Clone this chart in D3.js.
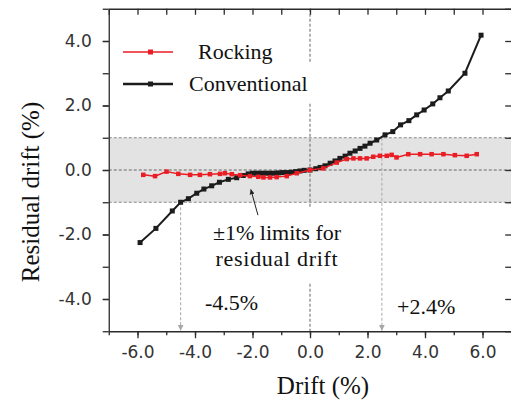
<!DOCTYPE html>
<html>
<head>
<meta charset="utf-8">
<script src="https://cdn.jsdelivr.net/npm/d3@7"></script>
<style>
  body { margin: 0; background: #fff; }
  svg { display: block; }
</style>
</head>
<body>
<svg id="chart" width="511" height="403"></svg>
<script>
// values (drift %, residual drift %)
const conventionalDrift = [-5.91, -5.36, -4.79, -4.50, -4.23, -3.94, -3.69, -3.42, -3.15, -2.84, -2.55, -2.32,
    -2.15, -2.00, -1.85, -1.70, -1.55, -1.40, -1.25, -1.10, -0.95, -0.80, -0.65, -0.50, -0.35, -0.20, 0,
    0.20, 0.35, 0.52, 0.70, 0.87, 1.04, 1.22, 1.39, 1.57, 1.74, 1.91, 2.09, 2.32, 2.61, 2.88, 3.15, 3.44,
    3.71, 3.97, 4.27, 4.52, 4.81, 5.39, 5.95];
const conventionalResidual = [-2.25, -1.81, -1.27, -1.00, -0.89, -0.72, -0.59, -0.49, -0.38, -0.29, -0.24, -0.17,
    -0.12, -0.10, -0.10, -0.10, -0.10, -0.10, -0.10, -0.09, -0.08, -0.08, -0.07, -0.05, -0.03, -0.01, 0,
    0.04, 0.08, 0.13, 0.21, 0.28, 0.36, 0.43, 0.52, 0.59, 0.67, 0.74, 0.83, 0.93, 1.09, 1.19, 1.40, 1.53,
    1.71, 1.86, 2.05, 2.24, 2.45, 3.00, 4.18];

const rockingDrift = [-5.80, -5.39, -4.99, -4.58, -4.17, -3.83, -3.48, -3.13, -2.96, -2.72, -2.43, -2.09,
    -1.80, -1.62, -1.39, -1.16, -0.81, -0.46, 0, 0.46, 0.93, 1.28, 1.51, 1.74, 1.97, 2.20, 2.43, 2.67,
    2.84, 3.01, 3.42, 3.83, 4.23, 4.64, 5.04, 5.45, 5.80];
const rockingResidual = [-0.15, -0.19, -0.05, -0.12, -0.15, -0.15, -0.13, -0.12, -0.10, -0.13, -0.16, -0.19,
    -0.21, -0.23, -0.23, -0.22, -0.19, -0.10, 0, 0.05, 0.23, 0.34, 0.36, 0.36, 0.36, 0.41, 0.44, 0.44,
    0.47, 0.39, 0.49, 0.49, 0.49, 0.49, 0.46, 0.44, 0.49];

const seriesNames = ['Rocking', 'Conventional'];
const xTicks = [-6, -4, -2, 0, 2, 4, 6];
const yTicks = [-4, -2, 0, 2, 4];
const residualLimits = [-1, 1];
const limitDrifts = [-4.5, 2.5];
const limitLabels = ['-4.5%', '+2.4%'];
const noteLines = ['\u00b11% limits for', 'residual drift'];

const svg = d3.select('#chart');
const x = d3.scaleLinear().domain([-7, 7]).range([108.75, 511.25]);
const y = d3.scaleLinear().domain([-5, 5]).range([331.25, 8.75]);
const minorX = d3.range(-7, 8, 1);
const minorY = d3.range(-5, 6, 1);

const serif = '"Liberation Serif", "Times New Roman", serif';
const sans = '"DejaVu Sans", Verdana, sans-serif';
const axisColor = '#2b2b2b';
const guideColor = '#8a8a8a';

// ±1 % band
svg.append('rect')
    .attr('x', x(-7))
    .attr('y', y(residualLimits[1]))
    .attr('width', x(7) - x(-7))
    .attr('height', y(residualLimits[0]) - y(residualLimits[1]))
    .attr('fill', '#e3e3e3');

svg.selectAll('.limit-line')
    .data(residualLimits.concat([0]))
    .join('line')
    .attr('class', 'limit-line')
    .attr('x1', x(-7)).attr('x2', x(7))
    .attr('y1', d => y(d)).attr('y2', d => y(d))
    .attr('stroke', d => d === 0 ? '#666' : guideColor)
    .attr('stroke-width', 1)
    .attr('stroke-dasharray', '3,2');

svg.append('line')
    .attr('x1', x(0)).attr('x2', x(0))
    .attr('y1', y(5)).attr('y2', y(-5))
    .attr('stroke', '#666')
    .attr('stroke-dasharray', '3,2');

// arrows down to the axis where conventional leaves the band
const defs = svg.append('defs');
defs.append('marker')
    .attr('id', 'gray-head')
    .attr('viewBox', '0 0 10 10')
    .attr('refX', 10).attr('refY', 5)
    .attr('markerWidth', 6).attr('markerHeight', 9)
    .attr('markerUnits', 'userSpaceOnUse')
    .attr('orient', 'auto')
    .append('path')
    .attr('d', 'M0,0L10,5L0,10Z')
    .attr('fill', '#a8a8a8');
defs.append('marker')
    .attr('id', 'black-head')
    .attr('viewBox', '0 0 10 10')
    .attr('refX', 10).attr('refY', 5)
    .attr('markerWidth', 5).attr('markerHeight', 9)
    .attr('markerUnits', 'userSpaceOnUse')
    .attr('orient', 'auto')
    .append('path')
    .attr('d', 'M0,0L10,5L0,10Z')
    .attr('fill', '#222');

svg.selectAll('.limit-arrow')
    .data(limitDrifts)
    .join('line')
    .attr('class', 'limit-arrow')
    .attr('x1', d => x(d)).attr('x2', d => x(d))
    .attr('y1', d => y(d < 0 ? -1 : 1))
    .attr('y2', y(-5) - 0.5)
    .attr('stroke', '#a8a8a8')
    .attr('stroke-width', 1)
    .attr('stroke-dasharray', '3,2')
    .attr('marker-end', 'url(#gray-head)');

// white boxes behind legend and note (they hide the zero guide)
svg.append('rect')
    .attr('x', 111).attr('y', 62).attr('width', 202).attr('height', 41)
    .attr('fill', '#fff');
svg.append('rect')
    .attr('x', 200).attr('y', 208).attr('width', 150).attr('height', 75)
    .attr('fill', '#fff');

// axes
function styleAxis(g) {
    g.selectAll('path, line').attr('stroke', axisColor).attr('stroke-width', 1.3);
    g.selectAll('text').attr('font-family', sans).attr('font-size', 17).attr('fill', '#333');
}

svg.append('g')
    .attr('transform', `translate(0,${y(-5)})`)
    .call(d3.axisBottom(x).tickValues(minorX).tickSize(4).tickSizeOuter(0).tickFormat(''))
    .call(styleAxis);
svg.append('g')
    .attr('transform', `translate(0,${y(-5)})`)
    .call(d3.axisBottom(x).tickValues(xTicks).tickSize(7).tickPadding(8).tickSizeOuter(0)
        .tickFormat(d => d.toFixed(1)))
    .call(g => g.select('.domain').remove())
    .call(styleAxis);
svg.append('g')
    .attr('transform', `translate(0,${y(5)})`)
    .call(d3.axisBottom(x).tickValues(minorX).tickSize(6).tickSizeOuter(0).tickFormat(''))
    .call(styleAxis);

svg.append('g')
    .attr('transform', `translate(${x(-7)},0)`)
    .call(d3.axisLeft(y).tickValues(minorY).tickSize(6).tickSizeOuter(0).tickFormat(''))
    .call(styleAxis);
svg.append('g')
    .attr('transform', `translate(${x(-7)},0)`)
    .call(d3.axisLeft(y).tickValues(yTicks).tickSize(6).tickPadding(11).tickSizeOuter(0)
        .tickFormat(d => d.toFixed(1)))
    .call(g => g.select('.domain').remove())
    .call(styleAxis);
// right side: only inward ticks are inside the picture
svg.append('g')
    .attr('transform', `translate(${x(7)},0)`)
    .call(d3.axisRight(y).tickValues(minorY).tickSize(-6).tickSizeOuter(0).tickFormat(''))
    .call(g => g.select('.domain').remove())
    .call(styleAxis);

// series
const line = d3.line().x(d => x(d[0])).y(d => y(d[1]));
const conventional = d3.zip(conventionalDrift, conventionalResidual);
const rocking = d3.zip(rockingDrift, rockingResidual);

function drawSeries(points, color, width, size) {
    const g = svg.append('g');
    g.append('path')
        .datum(points)
        .attr('d', line)
        .attr('fill', 'none')
        .attr('stroke', color)
        .attr('stroke-width', width);
    g.selectAll('rect')
        .data(points)
        .join('rect')
        .attr('x', d => x(d[0]) - size / 2)
        .attr('y', d => y(d[1]) - size / 2)
        .attr('width', size)
        .attr('height', size)
        .attr('fill', color);
}

drawSeries(conventional, '#1c1c1c', 2, 5);
drawSeries(rocking, '#ea1c24', 1.5, 4.5);

// legend
const legendColors = ['#ea1c24', '#1c1c1c'];
const legendWidths = [1.5, 2.5];
const legendTextX = [198, 189];
const legend = svg.append('g');
seriesNames.forEach((name, i) => {
    const ly = 52 + i * 32;
    legend.append('line')
        .attr('x1', 123).attr('x2', 173)
        .attr('y1', ly).attr('y2', ly)
        .attr('stroke', legendColors[i])
        .attr('stroke-width', legendWidths[i]);
    legend.append('rect')
        .attr('x', 148).attr('y', ly - 2.5)
        .attr('width', 5).attr('height', 5)
        .attr('fill', legendColors[i]);
    legend.append('text')
        .attr('x', legendTextX[i]).attr('y', ly + 7)
        .attr('font-family', serif).attr('font-size', 22)
        .attr('fill', '#111')
        .text(name);
});

// note with arrow
svg.append('line')
    .attr('x1', x(-1.81)).attr('y1', y(-1.40))
    .attr('x2', x(-2.06)).attr('y2', y(-0.60))
    .attr('stroke', '#222')
    .attr('stroke-width', 1)
    .attr('marker-end', 'url(#black-head)');

svg.append('text')
    .attr('font-family', serif).attr('font-size', 22)
    .attr('fill', '#111')
    .attr('text-anchor', 'middle')
    .selectAll('tspan')
    .data(noteLines)
    .join('tspan')
    .attr('x', 277)
    .attr('y', (d, i) => 240 + i * 26)
    .attr('letter-spacing', (d, i) => i === 1 ? 0.7 : 0)
    .text(d => d);

svg.selectAll('.limit-label')
    .data(limitDrifts)
    .join('text')
    .attr('class', 'limit-label')
    .attr('x', d => d < 0 ? 205 : 397)
    .attr('y', d => d < 0 ? 310 : 314)
    .attr('font-family', serif).attr('font-size', 22)
    .attr('fill', '#111')
    .text((d, i) => limitLabels[i]);

// axis titles
svg.append('text')
    .attr('x', 323).attr('y', 394)
    .attr('text-anchor', 'middle')
    .attr('font-family', serif).attr('font-size', 25)
    .attr('fill', '#111')
    .text('Drift (%)');

svg.append('text')
    .attr('transform', 'translate(39,192) rotate(-90)')
    .attr('text-anchor', 'middle')
    .attr('font-family', serif).attr('font-size', 25)
    .attr('fill', '#111')
    .text('Residual drift (%)');
</script>
</body>
</html>
